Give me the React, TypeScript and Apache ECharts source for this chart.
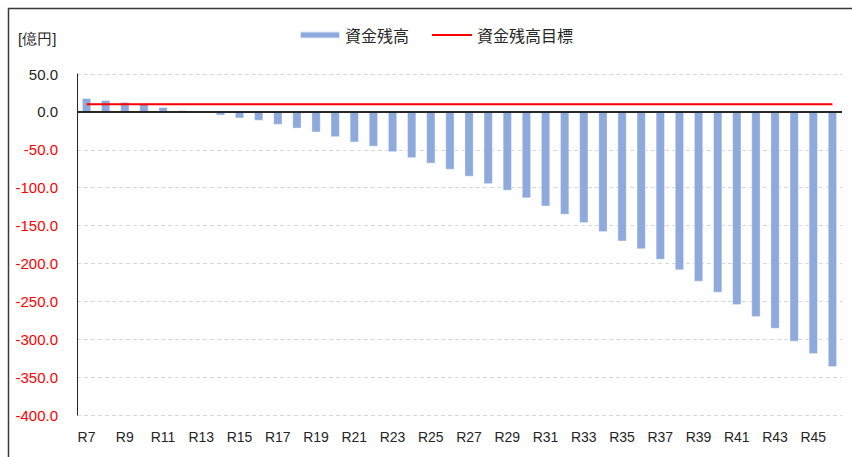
import React, { useEffect, useRef } from "react";
import * as echarts from "echarts";

const categories: string[] = [
  "R7", "R8", "R9", "R10", "R11", "R12", "R13", "R14", "R15", "R16",
  "R17", "R18", "R19", "R20", "R21", "R22", "R23", "R24", "R25", "R26",
  "R27", "R28", "R29", "R30", "R31", "R32", "R33", "R34", "R35", "R36",
  "R37", "R38", "R39", "R40", "R41", "R42", "R43", "R44", "R45", "R46",
];

const balance: number[] = [
  18, 15.4, 12.8, 10, 6, 2, -0.5, -4.4, -8.3, -11.4,
  -16.7, -21.7, -26.8, -33, -40, -45.6, -52.8, -60.7, -68, -76,
  -85.2, -95, -103.7, -113.8, -124.4, -135.4, -146.4, -158.3, -170.6, -181,
  -194.7, -208.8, -223.7, -238.3, -254.6, -270.4, -285.8, -302.9, -319.3, -336.4,
];

const target: number[] = categories.map(() => 10);

const yMin = -400;
const yMax = 50;
const yStep = 50;

export default function App() {
  const ref = useRef<HTMLDivElement>(null);
  useEffect(() => {
    if (!ref.current) return;
    const chart = echarts.init(ref.current, undefined, { renderer: "svg" });
    const font = "'Liberation Sans', Arial, sans-serif";
    const cjk = "'Noto Sans CJK JP', 'Liberation Sans', sans-serif";
    chart.setOption({
      animation: false,
      textStyle: { fontFamily: font },
      graphic: [
        {
          type: "rect",
          shape: { x: 8.5, y: 8.5, width: 1000, height: 1000 },
          style: { fill: "none", stroke: "#3a3a3a", lineWidth: 1.5 },
          silent: true,
        },
        {
          type: "text",
          left: 18,
          top: 31,
          style: { text: "[億円]", fontSize: 15, fill: "#262626", fontFamily: font },
        },
      ],
      legend: {
        top: 22,
        left: 294,
        itemWidth: 40,
        itemHeight: 7,
        itemGap: 22,
        textStyle: { fontSize: 16, color: "#262626", fontFamily: cjk },
        data: [
          { name: "資金残高", icon: "rect" },
          { name: "資金残高目標", itemStyle: { opacity: 0 } },
        ],
      },
      grid: { left: 77, right: 10, top: 74, bottom: 42, containLabel: false },
      xAxis: {
        type: "category",
        data: categories,
        axisLine: { show: false },
        axisTick: { show: false },
        axisLabel: {
          interval: 1,
          fontSize: 14,
          color: "#262626",
          margin: 15,
          fontFamily: font,
        },
        splitLine: { show: false },
      },
      yAxis: {
        type: "value",
        min: yMin,
        max: yMax,
        interval: yStep,
        axisLine: { show: true, lineStyle: { color: "#262626", width: 1 } },
        axisTick: { show: false },
        axisLabel: {
          margin: 19,
          formatter: (v: number) =>
            v < 0 ? `{r|${v.toFixed(1)}}` : `{b|${v.toFixed(1)}}`,
          rich: {
            r: { color: "#ff0000", fontSize: 15, fontFamily: font },
            b: { color: "#262626", fontSize: 15, fontFamily: font },
          },
        },
        splitLine: {
          show: true,
          lineStyle: { color: "#d9d9d9", type: [4, 3], width: 1 },
        },
      },
      series: [
        {
          name: "資金残高",
          type: "bar",
          data: balance,
          barWidth: "46%",
          itemStyle: {
            color: "#8eaadc",
            borderColor: "rgba(255,255,255,0.7)",
            borderWidth: 0.5,
          },
          markLine: {
            silent: true,
            symbol: "none",
            label: { show: false },
            lineStyle: { color: "#262626", width: 1.8, type: "solid" },
            data: [{ yAxis: 0 }],
          },
          z: 2,
        },
        {
          name: "資金残高目標",
          type: "line",
          data: target,
          symbol: "none",
          lineStyle: { color: "#ff0000", width: 2 },
          itemStyle: { color: "#ff0000" },
          z: 3,
        },
      ],
    });
    return () => chart.dispose();
  }, []);
  return (
    <div
      ref={ref}
      style={{ position: "absolute", left: 0, top: 0, width: 852, height: 457, background: "#fff" }}
    />
  );
}
